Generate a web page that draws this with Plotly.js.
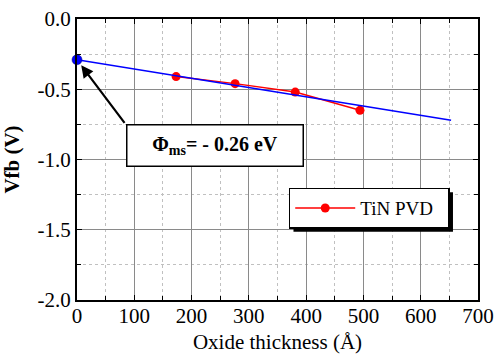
<!DOCTYPE html>
<html>
<head>
<meta charset="utf-8">
<script src="https://cdn.plot.ly/plotly-3.0.1.min.js"></script>
<style>html,body{margin:0;padding:0;background:#fff;}</style>
</head>
<body>
<div id="chart"></div>
<script>
// Data
const tinName = "TiN PVD";
const tinThickness = [173, 276, 381, 494];   // Å
const tinVfb = [-0.41, -0.46, -0.52, -0.65];  // V
const fitThickness = [0, 653];
const fitVfb = [-0.29, -0.72];
const interceptX = [0];
const interceptY = [-0.29];
const xTickVals = [0, 100, 200, 300, 400, 500, 600, 700];
const xTickText = ["0", "100", "200", "300", "400", "500", "600", "700"];
const yTickVals = [0, -0.5, -1.0, -1.5, -2.0];
const yTickText = ["0.0", "-0.5", "-1.0", "-1.5", "-2.0"];
const annotationText = "<b>Φ<sub>ms</sub>= - 0.26 eV</b>";

const FONTFAM = "Liberation Serif";

const traces = [
  {
    x: tinThickness, y: tinVfb, name: tinName + "\u00a0\u00a0", type: "scatter", mode: "lines+markers",
    line: {color: "#ff0000", width: 1.5},
    marker: {color: "#ff0000", size: 9}
  },
  {
    x: fitThickness, y: fitVfb, type: "scatter", mode: "lines", showlegend: false,
    line: {color: "#0000ff", width: 1.5}
  },
  {
    x: interceptX, y: interceptY, type: "scatter", mode: "markers", showlegend: false,
    cliponaxis: false,
    marker: {color: "#0000ff", size: 10, line: {color: "#000080", width: 0.5}}
  }
];

function axisBase() {
  return {
    showline: true, linecolor: "#000", linewidth: 2, mirror: "allticks",
    ticks: "inside", ticklen: 5, tickwidth: 1, tickcolor: "#000",
    showgrid: true, gridcolor: "#8a8a8a", gridwidth: 1,
    zeroline: false,
    tickfont: {family: FONTFAM, size: 21, color: "#000"}
  };
}

const xaxis = axisBase();
xaxis.range = [0, 700];
xaxis.tickmode = "array";
xaxis.tickvals = xTickVals;
xaxis.ticktext = xTickText;
xaxis.ticklabelstandoff = -4;
xaxis.minor = {dtick: 50, ticks: "inside", ticklen: 4, tickcolor: "#000", showgrid: true, gridcolor: "#c0c0c0", griddash: "dot", gridwidth: 1};
xaxis.title = {text: "Oxide thickness (Å)", font: {family: FONTFAM, size: 21, color: "#000"}, standoff: 7};

const yaxis = axisBase();
yaxis.range = [-2.0, 0.0];
yaxis.tickmode = "array";
yaxis.tickvals = yTickVals;
yaxis.ticktext = yTickText;
yaxis.minor = {dtick: 0.25, ticks: "inside", ticklen: 4, tickcolor: "#000", showgrid: true, gridcolor: "#c0c0c0", griddash: "dot", gridwidth: 1};
yaxis.title = {text: "<b>Vfb (V)</b>", font: {family: FONTFAM, size: 21, color: "#000"}, standoff: 12};

const layout = {
  width: 494, height: 354,
  margin: {l: 77, r: 16, t: 19, b: 54},
  paper_bgcolor: "#fff", plot_bgcolor: "#fff",
  showlegend: true,
  font: {family: FONTFAM, color: "#000"},
  xaxis: xaxis,
  yaxis: yaxis,
  legend: {
    x: 0.528, y: 0.40, xanchor: "left", yanchor: "top",
    bgcolor: "#fff", bordercolor: "#000", borderwidth: 1.5,
    font: {family: FONTFAM, size: 19, color: "#000"},
    itemwidth: 60
  },
  annotations: [
    {
      xref: "x", yref: "y", x: interceptX[0], y: interceptY[0],
      axref: "x", ayref: "y", ax: 85, ay: -0.75,
      text: "", showarrow: true, arrowhead: 2, arrowsize: 1.1, arrowwidth: 2.2,
      arrowcolor: "#000", standoff: 7
    },
    {
      xref: "x", yref: "y", x: 85, y: -0.75, xanchor: "left", yanchor: "top",
      text: annotationText, showarrow: false,
      font: {family: FONTFAM, size: 20, color: "#000"},
      bgcolor: "#fff", bordercolor: "#000", borderwidth: 1.5, borderpad: 0,
      width: 175, height: 40
    }
  ]
};

function addShadow(gd) {
  const bg = gd.querySelector(".legend .bg");
  if (!bg) return;
  const r = bg.getBoundingClientRect();
  const c = gd.getBoundingClientRect();
  const fs = gd._fullLayout._size;
  const off = 4;
  const x0 = (r.left - c.left + off - fs.l) / fs.w;
  const x1 = (r.right - c.left + off - fs.l) / fs.w;
  const y0 = 1 - (r.bottom - c.top + off - fs.t) / fs.h;
  const y1 = 1 - (r.top - c.top + off - fs.t) / fs.h;
  return Plotly.relayout(gd, {shapes: [{type: "rect", xref: "paper", yref: "paper", x0: x0, x1: x1, y0: y0, y1: y1, fillcolor: "#000", line: {width: 0}, layer: "above"}]});
}

Plotly.newPlot("chart", traces, layout, {displayModeBar: false}).then(addShadow);
</script>
</body>
</html>
